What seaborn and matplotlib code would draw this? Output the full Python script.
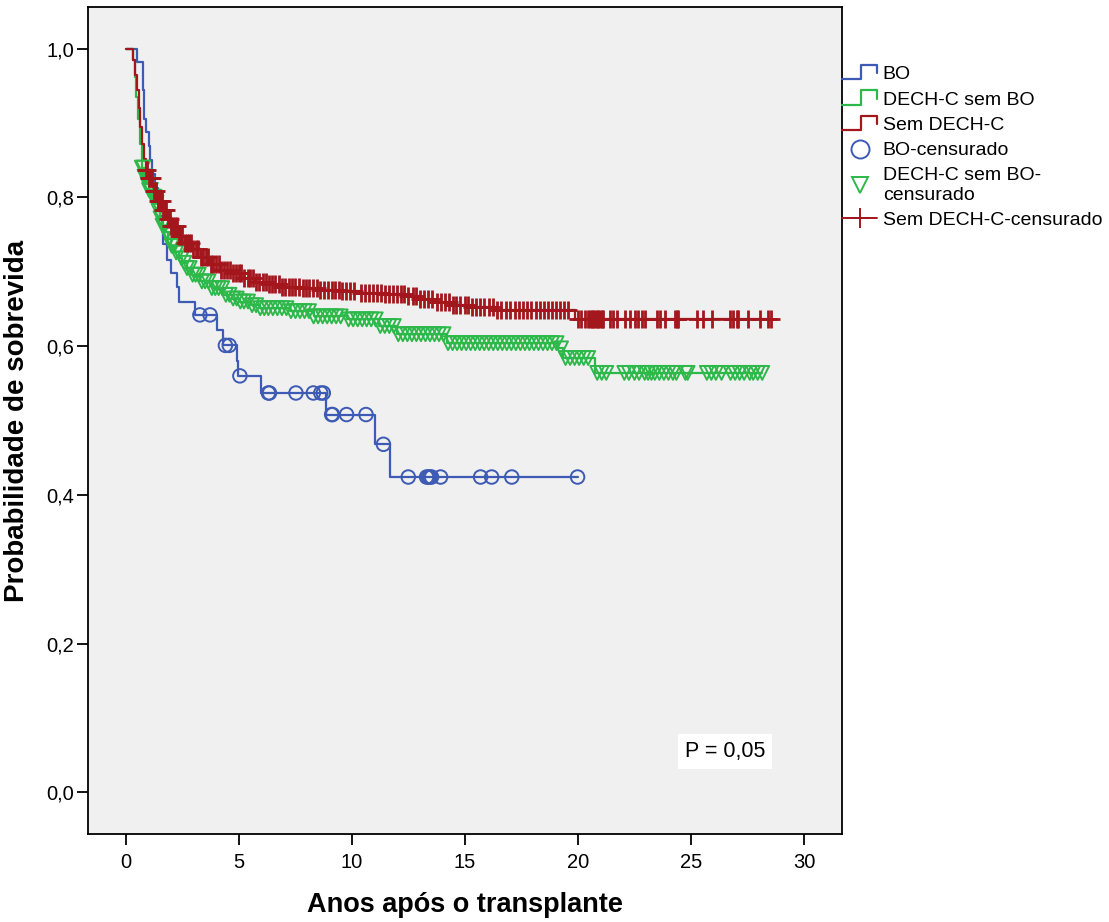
import numpy as np
import pandas as pd
import matplotlib
matplotlib.use("Agg")
import matplotlib.pyplot as plt
import seaborn as sns
from matplotlib.lines import Line2D
from matplotlib.legend_handler import HandlerBase

# ---------------- data ----------------
groups = ["BO", "DECH-C sem BO", "Sem DECH-C"]
censor_labels = ["BO-censurado", "DECH-C sem BO-\ncensurado", "Sem DECH-C-censurado"]

bo_t = [0, 0.47, 0.74, 0.80, 0.87, 1.02, 1.06, 1.17, 1.30, 1.42, 1.52, 1.58, 1.64,
        1.80, 2.00, 2.27, 2.36, 3.05, 4.04, 4.30, 4.90, 4.97, 5.96, 8.85, 11.02, 11.68]
bo_s = [1.0, 0.982, 0.945, 0.906, 0.888, 0.869, 0.850, 0.831, 0.812, 0.794, 0.775, 0.757, 0.737,
        0.716, 0.698, 0.680, 0.660, 0.642, 0.622, 0.601, 0.580, 0.560, 0.537, 0.508, 0.468, 0.424]
bo_c = [3.27, 3.72, 4.40, 4.57, 5.04, 6.30, 6.35, 7.52, 8.29, 8.62, 8.73, 9.10, 9.14,
        9.76, 10.62, 11.39, 12.49, 13.30, 13.38, 13.45, 13.52, 13.92, 15.69, 16.18, 17.07, 19.98]

gr_t = [0, 0.30, 0.38, 0.46, 0.54, 0.62, 0.70, 0.80, 0.90, 1.00, 1.14, 1.28, 1.40, 1.50,
        1.62, 1.73, 1.86, 2.00, 2.17, 2.35, 2.50, 2.70, 2.90, 3.27, 3.80, 4.30, 4.70, 5.04,
        5.50, 5.93, 7.26, 8.30, 9.80, 11.20, 12.00, 14.20, 19.10, 19.35, 20.75]
gr_s = [1.0, 0.985, 0.962, 0.935, 0.905, 0.872, 0.840, 0.828, 0.818, 0.810, 0.801, 0.793,
        0.782, 0.772, 0.762, 0.753, 0.744, 0.735, 0.726, 0.718, 0.712, 0.705, 0.696, 0.687,
        0.678, 0.669, 0.664, 0.660, 0.655, 0.651, 0.647, 0.640, 0.636, 0.627, 0.616, 0.604,
        0.597, 0.584, 0.564]
gr_c = [0.70, 0.76, 0.82, 0.88, 0.95, 1.02, 1.10, 1.18, 1.26, 1.35, 1.44, 1.53, 1.62, 1.72,
        1.82, 1.92, 2.02, 2.12, 2.22, 2.34, 2.46, 2.58, 2.70, 2.82, 2.95, 3.08, 3.22, 3.36,
        3.50, 3.65, 3.80, 3.95, 4.10, 4.26, 4.42, 4.58, 4.74, 4.90, 5.06, 5.22, 5.40, 5.58,
        5.76, 5.94, 6.12, 6.30, 6.50, 6.70, 6.90, 7.10, 7.30, 7.50, 7.70, 7.90, 8.10, 8.30,
        8.50, 8.70, 8.90, 9.10, 9.30, 9.50, 9.85, 10.05, 10.25, 10.45, 10.65, 10.85, 11.05,
        11.25, 11.45, 11.65, 11.85, 12.05, 12.25, 12.45, 12.65, 12.85, 13.05, 13.25, 13.45,
        13.65, 13.85, 14.05, 14.25, 14.45, 14.65, 14.85, 15.05, 15.25, 15.45, 15.65, 15.85,
        16.05, 16.25, 16.45, 16.65, 16.85, 17.05, 17.25, 17.45, 17.65, 17.85, 18.05, 18.25,
        18.45, 18.65, 18.85, 19.05, 19.25, 19.45, 19.65, 19.85, 20.05, 20.25, 20.45,
        20.85, 21.05, 21.25, 22.05, 22.25, 22.50, 22.70, 22.95, 23.10, 23.25, 23.40, 23.60,
        23.80, 24.00, 24.20, 24.35, 24.75, 24.85, 25.70, 25.90, 26.10, 26.35, 26.75, 26.95,
        27.15, 27.35, 27.60, 27.75, 27.95, 28.15]

rd_t = [0, 0.32, 0.40, 0.48, 0.56, 0.64, 0.72, 0.80, 0.88, 1.00, 1.20, 1.40, 1.60, 1.80,
        2.00, 2.30, 2.60, 2.90, 3.30, 3.70, 4.20, 4.70, 5.20, 5.70, 6.30, 6.90, 7.80, 8.60,
        9.50, 10.40, 11.40, 12.40, 13.00, 13.60, 14.30, 15.20, 16.40, 19.85]
rd_s = [1.0, 0.985, 0.965, 0.945, 0.920, 0.895, 0.872, 0.852, 0.837, 0.826, 0.808, 0.795,
        0.783, 0.771, 0.761, 0.748, 0.738, 0.730, 0.720, 0.710, 0.703, 0.698, 0.692, 0.686,
        0.683, 0.680, 0.678, 0.676, 0.674, 0.672, 0.670, 0.667, 0.664, 0.660, 0.655, 0.652,
        0.649, 0.637]
rd_c = [0.90, 0.95, 1.00, 1.05, 1.10, 1.16, 1.22, 1.28, 1.33, 1.40, 1.46, 1.52, 1.58, 1.65,
        1.72, 1.78, 1.85, 1.93, 2.00, 2.08, 2.16, 2.25, 2.33, 2.42, 2.50, 2.60, 2.70, 2.78,
        2.88, 2.98, 3.08, 3.18, 3.30, 3.40, 3.52, 3.63, 3.75, 3.86, 3.98, 4.10, 4.22, 4.35,
        4.48, 4.60, 4.72, 4.85, 4.98, 5.10, 5.24, 5.38, 5.50, 5.63, 5.77, 5.90, 6.05, 6.18,
        6.32, 6.46, 6.60, 6.75, 6.90, 7.05, 7.20, 7.36, 7.50, 7.66, 7.82, 7.98, 8.12, 8.28,
        8.45, 8.60, 8.76, 8.92, 9.10, 9.26, 9.42, 9.58, 9.75, 9.92, 10.10, 10.40, 10.58,
        10.75, 10.92, 11.10, 11.28, 11.45, 11.62, 11.80, 11.98, 12.15, 12.32, 12.50, 12.68,
        12.85, 13.02, 13.20, 13.38, 13.56, 13.75, 13.92, 14.10, 14.28, 14.45, 14.62, 14.80,
        14.98, 15.15, 15.32, 15.50, 15.68, 15.86, 16.05, 16.22, 16.40, 16.60, 16.80, 17.00,
        17.20, 17.40, 17.58, 17.76, 17.94, 18.12, 18.30, 18.48, 18.66, 18.84, 19.02, 19.20,
        19.38, 19.56,
        20.00, 20.13, 20.30, 20.44, 20.53, 20.62, 20.66, 20.75, 20.84, 20.88, 20.97, 21.06,
        21.10, 21.40, 21.55, 21.73, 22.08, 22.30, 22.52, 22.65, 22.83, 22.96, 23.50, 23.63,
        23.85, 24.30, 24.38, 24.42, 25.27, 25.53, 25.93, 26.73, 26.86, 27.04, 27.08, 27.52,
        28.05, 28.40, 28.55]

x_ticks = [0, 5, 10, 15, 20, 25, 30]
y_ticks = [0.0, 0.2, 0.4, 0.6, 0.8, 1.0]
y_tick_labels = ["0,0", "0,2", "0,4", "0,6", "0,8", "1,0"]
p_text = "P = 0,05"
p_pos = (26.5, 0.055)

colors = ["#3D5AB4", "#2DB84A", "#A3161C"]
markers = ["o", "v", "+"]

# ---------------- style ----------------
sns.set_style("white")
plt.rcParams["font.family"] = ["Liberation Sans", "DejaVu Sans"]
plt.rcParams["text.color"] = "black"
plt.rcParams["axes.labelcolor"] = "black"
plt.rcParams["xtick.color"] = "black"
plt.rcParams["ytick.color"] = "black"

fig = plt.figure(figsize=(11.09, 9.22), dpi=100)
ax = fig.add_axes([88 / 1109, 88 / 922, (842 - 88) / 1109, (834 - 7) / 922])
ax.set_facecolor("#F0F0F0")


def step_curve(t, s, cens):
    end = max(max(cens), t[-1])
    tt = list(t) + [end]
    ss = list(s) + [s[-1]]
    return pd.DataFrame({"t": tt, "s": ss})


def surv_at(t, s, times):
    idx = np.searchsorted(np.asarray(t), np.asarray(times), side="right") - 1
    return np.asarray(s)[idx]


data = [(bo_t, bo_s, bo_c), (gr_t, gr_s, gr_c), (rd_t, rd_s, rd_c)]
order = [0, 1, 2]
for i in order:
    t, s, c = data[i]
    df = step_curve(t, s, c)
    sns.lineplot(data=df, x="t", y="s", ax=ax, color=colors[i], lw=1.6,
                 drawstyle="steps-post", estimator=None, sort=False, zorder=2 + i)
for i in order:
    t, s, c = data[i]
    cy = surv_at(t, s, c)
    if markers[i] == "+":
        sns.scatterplot(x=c, y=cy, ax=ax, marker="+", s=150, color=colors[i],
                        linewidth=2.0, zorder=3 + i)
    else:
        sns.scatterplot(x=c, y=cy, ax=ax, marker=markers[i], s=95 if i == 0 else 100,
                        facecolors="none", edgecolor=colors[i], linewidth=1.4, zorder=3 + i)

ax.set_xlim(-1.68, 31.68)
ax.set_ylim(-0.056, 1.056)
ax.set_xticks(x_ticks)
ax.set_xticklabels([str(v) for v in x_ticks])
ax.set_yticks(y_ticks)
ax.set_yticklabels(y_tick_labels)
ax.tick_params(axis="both", direction="out", length=8, width=1.3, labelsize=14.5,
               color="black", labelcolor="black", bottom=True, left=True)
ax.tick_params(axis="y", pad=2)
ax.tick_params(axis="x", pad=6)
for sp in ax.spines.values():
    sp.set_visible(True)
    sp.set_color("black")
    sp.set_linewidth(1.3)

ax.set_xlabel("Anos após o transplante", fontsize=19.5, fontweight="bold", labelpad=14)
ax.set_ylabel("Probabilidade de sobrevida", fontsize=20, fontweight="bold", labelpad=12)

ax.text(p_pos[0], p_pos[1], p_text, fontsize=15.5, ha="center", va="center",
        bbox=dict(facecolor="white", edgecolor="none", pad=5))


class StepHandler(HandlerBase):
    def create_artists(self, legend, orig_handle, xdescent, ydescent, width, height,
                       fontsize, trans):
        x0, y0 = -xdescent, -ydescent
        xs = [x0, x0 + 0.55 * width, x0 + 0.55 * width, x0 + width, x0 + width]
        ys = [y0, y0, y0 + 1.05 * height, y0 + 1.05 * height, y0 + 0.45 * height]
        ln = Line2D(xs, ys, color=orig_handle.get_color(), lw=1.6)
        ln.set_transform(trans)
        return [ln]


line_handles = [Line2D([], [], color=c) for c in colors]
mark_handles = [
    Line2D([], [], ls="none", marker="o", ms=13, mfc="none", mec=colors[0], mew=1.4),
    Line2D([], [], ls="none", marker="v", ms=11, mfc="none", mec=colors[1], mew=1.4),
    Line2D([], [], ls="-", marker="+", ms=14, color=colors[2], mew=1.4, lw=1.4),
]
handler_map = {h: StepHandler() for h in line_handles}
leg = ax.legend(line_handles + mark_handles, groups + censor_labels,
                handler_map=handler_map, loc="upper left", bbox_to_anchor=(1.0, 0.929),
                frameon=False, fontsize=14, handlelength=1.8, handletextpad=0.3,
                labelspacing=0.4, borderaxespad=0, borderpad=0)
for txt in leg.get_texts():
    txt.set_linespacing(1.2)

fig.savefig("out.png", dpi=100, facecolor="white")
